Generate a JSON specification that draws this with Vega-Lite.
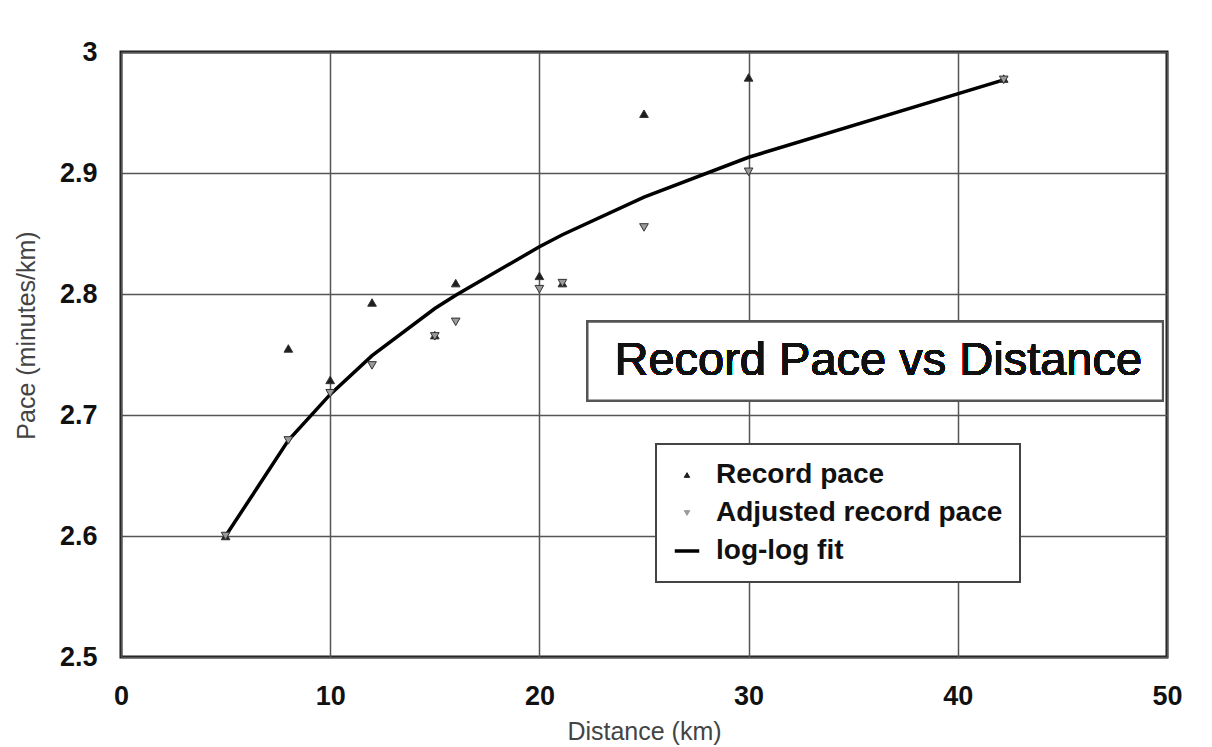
{
  "$schema": "https://vega.github.io/schema/vega-lite/v6.json",
  "autosize": {"type": "none"},
  "padding": {"left": 121, "top": 52, "right": 45, "bottom": 90},
  "width": 1046,
  "height": 605,
  "background": "white",
  "config": {
    "view": {"stroke": "#1a1a1a", "strokeWidth": 3},
    "font": "Liberation Sans",
    "axis": {
      "domain": false,
      "ticks": false,
      "grid": true,
      "gridColor": "#555555",
      "gridWidth": 1.5,
      "labelFlush": false,
      "labelFont": "Liberation Sans",
      "labelFontWeight": "bold",
      "labelFontSize": 27,
      "labelColor": "#111111",
      "titleFont": "Liberation Sans",
      "titleFontWeight": "normal",
      "titleFontSize": 25,
      "titleColor": "#444444"
    },
    "legend": {
      "orient": "none",
      "legendX": 535,
      "legendY": 392,
      "padding": 17,
      "fillColor": "white",
      "strokeColor": "#444444",
      "strokeWidth": 2,
      "labelFont": "Liberation Sans",
      "labelFontSize": 28,
      "labelFontWeight": "bold",
      "labelColor": "#111111",
      "labelOffset": 15,
      "rowPadding": 10,
      "symbolSize": 600,
      "labelLimit": 400
    }
  },
  "data": {
    "values": [
      {"distance": 5, "pace": 2.600, "series": "Record pace"},
      {"distance": 8, "pace": 2.755, "series": "Record pace"},
      {"distance": 10, "pace": 2.729, "series": "Record pace"},
      {"distance": 12, "pace": 2.793, "series": "Record pace"},
      {"distance": 15, "pace": 2.766, "series": "Record pace"},
      {"distance": 16, "pace": 2.809, "series": "Record pace"},
      {"distance": 20, "pace": 2.815, "series": "Record pace"},
      {"distance": 21.1, "pace": 2.809, "series": "Record pace"},
      {"distance": 25, "pace": 2.949, "series": "Record pace"},
      {"distance": 30, "pace": 2.979, "series": "Record pace"},
      {"distance": 42.195, "pace": 2.978, "series": "Record pace"},
      {"distance": 5, "pace": 2.600, "series": "Adjusted record pace"},
      {"distance": 8, "pace": 2.679, "series": "Adjusted record pace"},
      {"distance": 10, "pace": 2.718, "series": "Adjusted record pace"},
      {"distance": 12, "pace": 2.741, "series": "Adjusted record pace"},
      {"distance": 15, "pace": 2.765, "series": "Adjusted record pace"},
      {"distance": 16, "pace": 2.777, "series": "Adjusted record pace"},
      {"distance": 20, "pace": 2.804, "series": "Adjusted record pace"},
      {"distance": 21.1, "pace": 2.809, "series": "Adjusted record pace"},
      {"distance": 25, "pace": 2.855, "series": "Adjusted record pace"},
      {"distance": 30, "pace": 2.901, "series": "Adjusted record pace"},
      {"distance": 42.195, "pace": 2.977, "series": "Adjusted record pace"},
      {"distance": 5, "pace": 2.600, "series": "log-log fit"},
      {"distance": 8, "pace": 2.679, "series": "log-log fit"},
      {"distance": 10, "pace": 2.717, "series": "log-log fit"},
      {"distance": 12, "pace": 2.749, "series": "log-log fit"},
      {"distance": 15, "pace": 2.788, "series": "log-log fit"},
      {"distance": 16, "pace": 2.799, "series": "log-log fit"},
      {"distance": 20, "pace": 2.839, "series": "log-log fit"},
      {"distance": 21.1, "pace": 2.849, "series": "log-log fit"},
      {"distance": 25, "pace": 2.880, "series": "log-log fit"},
      {"distance": 30, "pace": 2.913, "series": "log-log fit"},
      {"distance": 42.195, "pace": 2.977, "series": "log-log fit"}
    ]
  },
  "encoding": {
    "x": {
      "field": "distance",
      "type": "quantitative",
      "scale": {"domain": [0, 50], "nice": false, "zero": false},
      "axis": {"values": [0, 10, 20, 30, 40, 50], "title": "Distance (km)", "labelPadding": 26, "titlePadding": 10}
    },
    "y": {
      "field": "pace",
      "type": "quantitative",
      "scale": {"domain": [2.5, 3.0], "nice": false, "zero": false},
      "axis": {"values": [2.5, 2.6, 2.7, 2.8, 2.9, 3.0], "format": "~g", "title": "Pace (minutes/km)", "labelPadding": 24, "titlePadding": 20, "titleY": 283}
    },
    "color": {
      "field": "series",
      "type": "nominal",
      "scale": {"domain": ["Record pace", "Adjusted record pace", "log-log fit"], "range": ["#1e1e1e", "#9a9a9a", "#000000"]},
      "legend": {
        "title": null,
        "encode": {
          "symbols": {
            "update": {
              "size": {"signal": "datum.value === 'log-log fit' ? 600 : 30"},
              "stroke": {"value": "#111111"},
              "strokeWidth": {"signal": "datum.value === 'log-log fit' ? 3.5 : 1"}
            }
          }
        }
      }
    }
  },
  "layer": [
    {
      "transform": [{"filter": "datum.series === 'log-log fit'"}],
      "mark": {"type": "line", "strokeWidth": 3.5, "strokeJoin": "miter"}
    },
    {
      "transform": [{"filter": "datum.series !== 'log-log fit'"}],
      "mark": {"type": "point", "filled": true, "size": 75, "stroke": "#333333", "strokeWidth": 1, "opacity": 1},
      "encoding": {
        "shape": {
          "field": "series",
          "type": "nominal",
          "scale": {"domain": ["Record pace", "Adjusted record pace", "log-log fit"], "range": ["triangle-up", "triangle-down", "stroke"]},
          "legend": {
            "title": null,
            "encode": {
              "symbols": {
                "update": {
                  "size": {"signal": "datum.value === 'log-log fit' ? 600 : 30"},
                  "stroke": {"value": "#111111"},
                  "strokeWidth": {"signal": "datum.value === 'log-log fit' ? 3.5 : 1"}
                }
              }
            }
          }
        }
      }
    },
    {
      "mark": {"type": "rect", "fill": "white", "stroke": "#555555", "strokeWidth": 2},
      "encoding": {
        "x": {"datum": 22.3},
        "x2": {"datum": 49.8},
        "y": {"datum": 2.777},
        "y2": {"datum": 2.712},
        "color": null
      }
    },
    {
      "mark": {"type": "text", "text": "Record Pace vs Distance", "font": "Liberation Sans", "fontSize": 47, "color": "#111111", "align": "center", "baseline": "middle"},
      "encoding": {
        "x": {"datum": 36.2},
        "y": {"datum": 2.7445},
        "color": null
      }
    }
  ]
}
